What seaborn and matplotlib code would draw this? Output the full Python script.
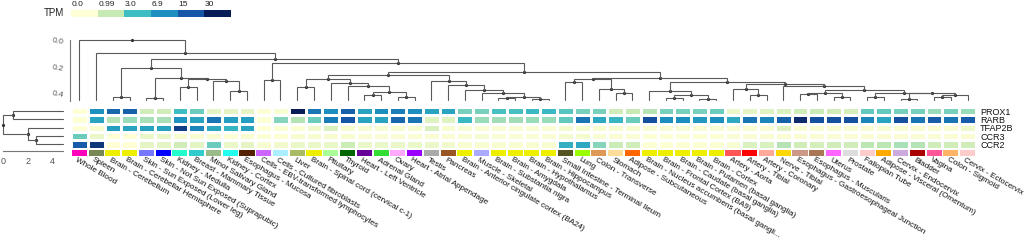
import numpy as np
import pandas as pd
import matplotlib
matplotlib.use("Agg")
import matplotlib.pyplot as plt
from matplotlib.colors import LinearSegmentedColormap
import seaborn as sns

sns.set_style("white")
plt.rcParams['font.family'] = ['Liberation Sans', 'DejaVu Sans']

tissues = ["Whole Blood", "Spleen", "Brain - Cerebellum", "Brain - Cerebellar Hemisphere",
           "Skin - Sun Exposed (Lower leg)", "Skin - Not Sun Exposed (Suprapubic)", "Kidney - Medulla",
           "Breast - Mammary Tissue", "Minor Salivary Gland", "Kidney - Cortex", "Esophagus - Mucosa",
           "Cells - EBV-transformed lymphocytes", "Cells - Cultured fibroblasts", "Liver",
           "Brain - Spinal cord (cervical c-1)", "Pituitary", "Thyroid", "Heart - Left Ventricle",
           "Adrenal Gland", "Ovary", "Heart - Atrial Appendage", "Testis", "Pancreas",
           "Brain - Anterior cingulate cortex (BA24)", "Muscle - Skeletal", "Brain - Substantia nigra",
           "Brain - Amygdala", "Brain - Hypothalamus", "Brain - Hippocampus",
           "Small Intestine - Terminal Ileum", "Lung", "Colon - Transverse", "Stomach",
           "Adipose - Subcutaneous", "Brain - Nucleus accumbens (basal gangli...",
           "Brain - Frontal Cortex (BA9)", "Brain - Caudate (basal ganglia)",
           "Brain - Putamen (basal ganglia)", "Brain - Cortex", "Artery - Aorta", "Artery - Tibial",
           "Artery - Coronary", "Nerve - Tibial", "Esophagus - Gastroesophageal Junction",
           "Esophagus - Muscularis", "Uterus", "Prostate", "Fallopian Tube",
           "Adipose - Visceral (Omentum)", "Cervix - Endocervix", "Bladder", "Vagina",
           "Colon - Sigmoid", "Cervix - Ectocervix"]

tissue_colors = ["#ff00bb", "#778855", "#eeee00", "#eeee00", "#7777ff", "#0000ff", "#22ffcc",
                 "#33cccc", "#99bb88", "#22ffee", "#552200", "#cc66ff", "#aaeeff", "#aabb66",
                 "#eeee00", "#aaff99", "#006600", "#660099", "#33dd33", "#ffaaff", "#9900ff",
                 "#aaaaaa", "#995522", "#eeee00", "#aaaaff", "#eeee00", "#eeee00", "#eeee00",
                 "#eeee00", "#555522", "#99ff00", "#dd9955", "#ffdd99", "#ff6600", "#eeee00",
                 "#eeee00", "#eeee00", "#eeee00", "#eeee00", "#ff5555", "#ff0000", "#ffaa99",
                 "#ffd700", "#cc9988", "#aa7755", "#ff66ff", "#dddddd", "#ffcccc", "#ffaa00",
                 "#ccaadd", "#aa0000", "#ff5599", "#ffb366", "#ffcccc"]

genes = ["PROX1", "RARB", "TFAP2B", "CCR3", "CCR2"]

prox1 = [0.02, 6.9, 12, 13, 0.8, 0.8, 3.0, 2.2, 0.4, 0.4, 0.4, 0.05, 0.1, 30, 10, 7, 13, 5, 7, 9,
         7, 5, 5, 2, 2, 2.8, 2.8, 3.3, 3.3, 2.5, 2, 2, 0.8, 1.0, 1.2, 2, 2, 2, 2.2, 0.3, 0.4, 0.5,
         0.6, 0.8, 0.9, 0.8, 0.7, 2.3, 2.3, 2, 2, 1.5, 2, 1.5]
rarb = [0.02, 5, 1.2, 1.5, 1.3, 1.3, 6.5, 5, 10, 5.5, 5.5, 0.05, 1.8, 1.2, 2.2, 9, 15, 5, 5, 12,
        10, 0.5, 0.5, 3.3, 1.5, 1.4, 1.4, 1.5, 1.5, 2.3, 10, 4.5, 3.5, 2.2, 16, 7, 7, 6, 7, 4.5,
        10, 8, 13, 25, 16, 16, 16, 8, 5, 16, 10, 14, 10, 14]
tfap2b = [0.02, 0.1, 5.5, 5, 5, 5, 20, 8, 4.5, 3.5, 5, 0.02, 0.05, 0.05, 0.2, 0.6, 0.1, 0.1,
          0.1, 0.1, 0.1, 0.6, 0.1, 0.08, 0.08, 0.08, 0.08, 0.08, 0.08, 0.15, 0.15, 0.1, 0.1, 0.1,
          0.08, 0.08, 0.08, 0.08, 0.08, 0.08, 0.08, 0.08, 0.5, 0.08, 0.08, 0.08, 0.08, 0.08, 0.08,
          0.08, 0.08, 0.08, 0.08, 0.25]
ccr3 = [2.2, 0.3, 0.02, 0.02, 0.3, 0.3, 0.1, 0.1, 0.1, 0.05, 0.1, 0.05, 0.05, 0.1, 0.1, 0.1,
        0.1, 0.08, 0.08, 0.08, 0.08, 0.08, 0.08, 0.08, 0.12, 0.08, 0.08, 0.08, 0.08, 0.15, 0.15,
        0.08, 0.08, 0.08, 0.05, 0.05, 0.05, 0.05, 0.05, 0.08, 0.08, 0.08, 0.08, 0.08, 0.08, 0.08,
        0.08, 0.08, 0.08, 0.08, 0.08, 0.08, 0.08, 0.08]
ccr2 = [14, 22, 0.02, 0.02, 0.4, 0.4, 0.8, 0.4, 2.2, 0.3, 0.4, 0.1, 0.2, 0.3, 0.3, 0.3, 0.9,
        0.3, 0.3, 0.3, 0.3, 0.3, 0.2, 0.1, 0.1, 0.1, 0.1, 0.1, 0.1, 4, 4.5, 1.8, 0.9, 0.8, 0.05,
        0.05, 0.05, 0.05, 0.05, 0.1, 0.6, 0.6, 1.2, 0.8, 0.7, 0.8, 0.8, 1.1, 1.1, 1.3, 1.2, 0.8,
        0.8, 0.8]

# merges: (left, right, depth); leaves 0..53, new nodes numbered from 54
col_merges = [
    (2, 3, 0.43), (4, 5, 0.44), (6, 7, 0.36), (9, 10, 0.385), (8, 57, 0.315),
    (56, 58, 0.30), (55, 59, 0.29), (54, 60, 0.21),                      # 54..61
    (11, 12, 0.307), (13, 14, 0.357), (17, 18, 0.42), (19, 20, 0.43),
    (64, 65, 0.395), (16, 66, 0.352), (15, 67, 0.327), (63, 68, 0.297),  # 62..69
    (25, 26, 0.44), (27, 28, 0.445), (70, 71, 0.43), (24, 72, 0.40),
    (23, 73, 0.377), (22, 74, 0.34), (21, 75, 0.315), (69, 76, 0.264),  # 70..77
    (29, 30, 0.32), (32, 33, 0.40), (31, 79, 0.37), (78, 80, 0.30),     # 78..81
    (35, 36, 0.44), (37, 38, 0.45), (82, 83, 0.42), (34, 84, 0.385),    # 82..85
    (40, 41, 0.42), (39, 86, 0.37),                                     # 86..87
    (43, 44, 0.41), (45, 46, 0.435), (88, 89, 0.40),                    # 88..90
    (47, 48, 0.435), (49, 50, 0.445), (51, 52, 0.43), (93, 53, 0.42),
    (92, 94, 0.405), (91, 95, 0.40), (90, 96, 0.377),                   # 91..97
    (42, 97, 0.352), (87, 98, 0.335), (85, 99, 0.32), (81, 100, 0.29),  # 98..101
    (77, 101, 0.24), (62, 102, 0.176), (61, 103, 0.143), (1, 104, 0.10),
    (0, 105, 0.0),                                                      # 102..106
]
col_leaf_depth = 0.457

row_merges = [(0, 1, 0.8), (3, 4, 2.7), (2, 6, 2.0), (5, 7, 0.0)]
row_leaf_depth = 4.9

tpm_stops = [0.0, 0.99, 3.0, 6.9, 15, 30]
tpm_labels = ["0.0", "0.99", "3.0", "6.9", "15", "30"]
stop_colors = ["#ffffd6", "#c7e9b4", "#3ebdc2", "#1d91c0", "#1656a6", "#081d58"]

W, H = 1024, 240
fig = plt.figure(figsize=(W / 100, H / 100), dpi=100)


def px_axes(x0, y0, x1, y1):
    return fig.add_axes([x0 / W, 1 - y1 / H, (x1 - x0) / W, (y1 - y0) / H])


vmax = np.log10(1 + tpm_stops[-1])
pos = [np.log10(1 + s) / vmax for s in tpm_stops]
cmap = LinearSegmentedColormap.from_list("tpm", list(zip(pos, stop_colors)))

df = pd.DataFrame([prox1, rarb, tfap2b, ccr3, ccr2], index=genes, columns=tissues)

# heatmap
hx0, hx1 = 71, 976
ax_hm = px_axes(hx0, 107, hx1, 148.5)
sns.heatmap(np.log10(df + 1), cmap=cmap, vmin=0, vmax=vmax, cbar=False, linewidths=0.9,
            linecolor="white", xticklabels=False, yticklabels=False, ax=ax_hm)
ax_hm.yaxis.tick_right()
ax_hm.set_yticks(np.arange(len(genes)) + 0.5)
ax_hm.set_yticklabels(genes, rotation=0, fontsize=6.5, color="#111111")
ax_hm.tick_params(axis="y", length=0, pad=3)
ax_hm.set_xlabel("")
ax_hm.set_ylabel("")

# tissue colour band
ax_band = px_axes(hx0, 150, hx1, 155.5)
ax_band.bar(np.arange(len(tissues)) + 0.5, 1, width=0.9, color=tissue_colors, linewidth=0)
ax_band.set_xlim(0, len(tissues))
ax_band.set_ylim(0, 1)
ax_band.axis("off")
for i, name in enumerate(tissues):
    ax_band.text(i + 0.4, -0.15, name, rotation=-30, ha="left", va="top",
                 rotation_mode="anchor", fontsize=5.85, color="#111111", clip_on=False)


def draw_dendro(ax, merges, n_leaves, leaf_depth, horizontal):
    xs = {i: i + 0.5 for i in range(n_leaves)}
    ds = {i: leaf_depth for i in range(n_leaves)}
    for k, (a, b, h) in enumerate(merges):
        node = n_leaves + k
        xs[node] = (xs[a] + xs[b]) / 2
        ds[node] = h
        px = [xs[a], xs[a], xs[b], xs[b]]
        py = [ds[a], h, h, ds[b]]
        if horizontal:
            ax.plot(px, py, color="#5a5a5a", lw=0.8, solid_joinstyle="miter", clip_on=False)
            ax.plot(xs[node], h, "o", ms=1.3, color="#333333", clip_on=False)
        else:
            ax.plot(py, px, color="#5a5a5a", lw=0.8, solid_joinstyle="miter", clip_on=False)
            ax.plot(h, xs[node], "o", ms=1.3, color="#333333", clip_on=False)


# column dendrogram
ax_cd = px_axes(hx0, 40, hx1, 100.5)
draw_dendro(ax_cd, col_merges, len(tissues), col_leaf_depth, True)
ax_cd.set_xlim(0, len(tissues))
ax_cd.set_ylim(col_leaf_depth + 0.003, 0.0)
for s in ["top", "right", "bottom"]:
    ax_cd.spines[s].set_visible(False)
ax_cd.spines["left"].set_color("#777777")
ax_cd.spines["left"].set_linewidth(0.8)
ax_cd.spines["left"].set_position(("outward", 1))
ax_cd.set_xticks([])
ax_cd.set_yticks([0.0, 0.2, 0.4])
ax_cd.set_yticklabels(["0.0", "0.2", "0.4"], fontsize=6, color="#555555", rotation=-10)
ax_cd.tick_params(axis="y", length=3, width=0.8, color="#777777", pad=1)

# row dendrogram
ax_rd = px_axes(3.3, 107, 63.3, 148.5)
draw_dendro(ax_rd, row_merges, len(genes), row_leaf_depth, False)
ax_rd.set_xlim(0, row_leaf_depth)
ax_rd.set_ylim(len(genes), 0)
for s in ["top", "right", "left"]:
    ax_rd.spines[s].set_visible(False)
ax_rd.spines["bottom"].set_color("#777777")
ax_rd.spines["bottom"].set_linewidth(0.8)
ax_rd.spines["bottom"].set_position(("outward", 2))
ax_rd.set_yticks([])
ax_rd.set_xticks([0, 2, 4])
ax_rd.set_xticklabels(["0", "2", "4"], fontsize=6.5, color="#555555")
ax_rd.tick_params(axis="x", length=3, width=0.8, color="#777777", pad=1)

# TPM legend
ax_leg = px_axes(71, 10, 231, 16.5)
leg = pd.DataFrame([np.log10(np.array(tpm_stops) + 1)])
sns.heatmap(leg, cmap=cmap, vmin=0, vmax=vmax, cbar=False, xticklabels=False,
            yticklabels=False, ax=ax_leg)
for i, lab in enumerate(tpm_labels):
    ax_leg.text(i + 0.02, -0.35, lab, fontsize=6, ha="left", va="bottom", color="#222222")
ax_leg.text(-0.25, 0.5, "TPM", fontsize=7, ha="right", va="center", color="#222222")

fig.savefig("out.png", dpi=100)
